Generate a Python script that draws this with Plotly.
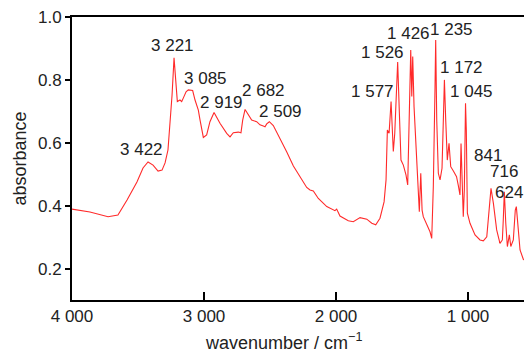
import plotly.graph_objects as go

# Spectrum (wavenumber / cm^-1, absorbance)
wavenumber = [4000, 3864, 3727, 3652, 3583, 3508, 3462, 3424, 3386, 3348, 3318, 3295, 3273, 3258,
              3242, 3227, 3216, 3202, 3182, 3169, 3157, 3136, 3119, 3086, 3068, 3043, 3030, 3005,
              2980, 2955, 2924, 2879, 2828, 2803, 2778, 2740, 2720, 2707, 2689, 2664, 2639, 2601,
              2576, 2551, 2538, 2525, 2505, 2475, 2424, 2373, 2323, 2273, 2222, 2197, 2172, 2134,
              2070, 2008, 1995, 1970, 1907, 1869, 1818, 1767, 1729, 1699, 1667, 1636, 1621, 1611,
              1598, 1583, 1576, 1566, 1555, 1540, 1533, 1520, 1508, 1490, 1470, 1457, 1445, 1434,
              1426, 1419, 1409, 1389, 1376, 1369, 1358, 1348, 1339, 1313, 1288, 1275, 1263, 1250,
              1245, 1237, 1225, 1212, 1197, 1187, 1179, 1169, 1157, 1144, 1131, 1111, 1087, 1073,
              1061, 1053, 1043, 1036, 1028, 1019, 1013, 1005, 985, 947, 909, 884, 858, 839, 826,
              808, 783, 758, 740, 733, 725, 714, 702, 687, 676, 657, 642, 634, 624, 606, 579]
absorbance = [0.389, 0.380, 0.365, 0.370, 0.418, 0.475, 0.520, 0.539, 0.529, 0.510, 0.513, 0.536, 0.577, 0.657,
              0.752, 0.870, 0.816, 0.731, 0.736, 0.731, 0.742, 0.762, 0.768, 0.766, 0.736, 0.704, 0.672, 0.617,
              0.625, 0.667, 0.696, 0.662, 0.630, 0.619, 0.632, 0.634, 0.632, 0.672, 0.706, 0.688, 0.672, 0.667,
              0.657, 0.653, 0.651, 0.660, 0.667, 0.655, 0.615, 0.571, 0.526, 0.490, 0.458, 0.450, 0.447, 0.423,
              0.397, 0.384, 0.389, 0.367, 0.352, 0.349, 0.362, 0.357, 0.344, 0.339, 0.360, 0.412, 0.482, 0.641,
              0.630, 0.731, 0.672, 0.572, 0.630, 0.800, 0.857, 0.694, 0.545, 0.529, 0.498, 0.466, 0.672, 0.895,
              0.747, 0.874, 0.715, 0.524, 0.429, 0.381, 0.503, 0.386, 0.365, 0.339, 0.317, 0.296, 0.460, 0.778,
              0.927, 0.672, 0.503, 0.482, 0.519, 0.672, 0.800, 0.672, 0.545, 0.598, 0.524, 0.510, 0.492, 0.463,
              0.434, 0.598, 0.429, 0.365, 0.450, 0.726, 0.641, 0.376, 0.344, 0.307, 0.291, 0.288, 0.301, 0.397, 0.455,
              0.408, 0.323, 0.280, 0.291, 0.354, 0.444, 0.344, 0.270, 0.307, 0.270, 0.291, 0.386, 0.397, 0.354, 0.259, 0.227]

# Peak labels
peak_labels = ["3 221", "3 085", "2 919", "2 682", "2 509", "3 422", "1 577", "1 526",
               "1 426", "1 235", "1 172", "1 045", "841", "716", "624"]
# label centre positions (layout)
label_x = [3239, 2992, 2866, 2553, 2417, 3472, 1723, 1648, 1449, 1123, 1051, 975, 848, 731, 688]
label_y = [0.908, 0.803, 0.727, 0.765, 0.698, 0.579, 0.763, 0.887, 0.946, 0.959, 0.839, 0.763, 0.558, 0.510, 0.443]

x_tickvals = [4000, 3000, 2000, 1000]
x_ticktext = ["4 000", "3 000", "2 000", "1 000"]
y_tickvals = [0.2, 0.4, 0.6, 0.8, 1.0]
y_ticktext = ["0.2", "0.4", "0.6", "0.8", "1.0"]

FONT = "Liberation Sans, Arial, sans-serif"
TXT = "#222222"

fig = go.Figure()
fig.add_trace(go.Scatter(x=wavenumber, y=absorbance, mode="lines",
                         line=dict(color="#ff2a2a", width=1.1), hoverinfo="skip",
                         showlegend=False))

for t, x, y in zip(peak_labels, label_x, label_y):
    fig.add_annotation(x=x, y=y, text=t, showarrow=False, xanchor="center", yanchor="middle",
                       font=dict(family=FONT, size=17, color=TXT))

# x-axis title (placed slightly left of centre, as in the reference)
fig.add_annotation(xref="paper", yref="paper", x=0.469, y=-0.145, xanchor="center", yanchor="middle",
                   text="wavenumber / cm<sup>−1</sup>", showarrow=False,
                   font=dict(family=FONT, size=18, color=TXT))

fig.update_layout(
    width=524, height=353,
    margin=dict(l=72, r=0, t=17, b=53),
    paper_bgcolor="white", plot_bgcolor="white",
    font=dict(family=FONT, size=17, color=TXT),
    xaxis=dict(range=[4000, 576], tickvals=x_tickvals, ticktext=x_ticktext,
               showline=True, linecolor="black", linewidth=2, mirror=True,
               ticks="inside", ticklen=8, tickwidth=2, tickcolor="black",
               tickfont=dict(family=FONT, size=17, color=TXT),
               showgrid=False, zeroline=False),
    yaxis=dict(range=[0.1, 1.0], tickvals=y_tickvals, ticktext=y_ticktext,
               showline=True, linecolor="black", linewidth=2, mirror=False,
               ticks="outside", ticklen=5, tickwidth=1.5, tickcolor="black",
               tickfont=dict(family=FONT, size=17, color=TXT),
               showgrid=False, zeroline=False,
               title=dict(text="absorbance", font=dict(family=FONT, size=18, color=TXT), standoff=7)),
)

fig.write_html("out.html")
